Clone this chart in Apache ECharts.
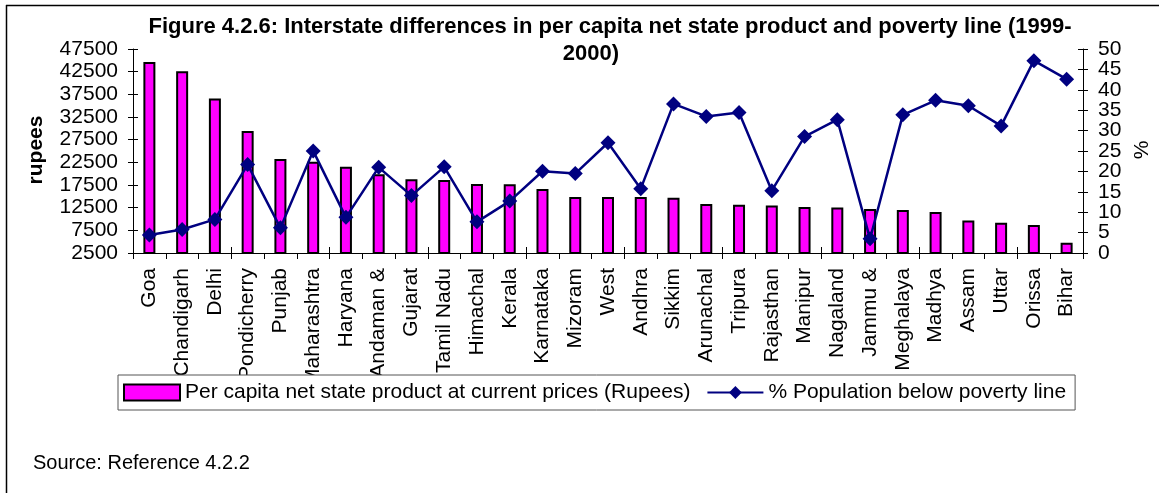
<!DOCTYPE html>
<html>
<head>
<meta charset="utf-8">
<script src="https://cdn.jsdelivr.net/npm/echarts@6/dist/echarts.min.js"></script>
<style>
html,body{margin:0;padding:0;background:#fff;}
#chart{width:1159px;height:493px;}
</style>
</head>
<body>
<div id="chart"></div>
<script>
const categories = ["Goa","Chandigarh","Delhi","Pondicherry","Punjab","Maharashtra","Haryana","Andaman &","Gujarat","Tamil Nadu","Himachal","Kerala","Karnataka","Mizoram","West","Andhra","Sikkim","Arunachal","Tripura","Rajasthan","Manipur","Nagaland","Jammu &","Meghalaya","Madhya","Assam","Uttar","Orissa","Bihar"];
const perCapita = [44650,42600,36600,29400,23250,22650,21550,19850,18750,18600,17700,17650,16600,14850,14850,14850,14700,13300,13150,13000,12650,12550,12200,12000,11550,9650,9200,8700,4750];
const povertyPct = [4.4,5.75,8.23,21.67,6.16,25.02,8.74,20.99,14.07,21.12,7.63,12.72,20.04,19.47,27.02,15.77,36.55,33.47,34.44,15.28,28.54,32.67,3.48,33.87,37.43,36.09,31.15,47.15,42.6];
const leftTicks = {min:2500, max:47500, interval:5000};
const rightTicks = {min:0, max:50, interval:5};
const titleLine1 = "Figure 4.2.6: Interstate differences in per capita net state product and poverty line (1999-";
const titleLine2 = "2000)";
const barName = "Per capita net state product at current prices (Rupees)";
const lineName = "% Population below poverty line";
const sourceText = "Source: Reference 4.2.2";

const FONT = "'Liberation Sans', Arial, sans-serif";
const chart = echarts.init(document.getElementById('chart'));
const axisLineStyle = {color:'#000', width:1};
const plain = v => String(v);
const baseLabel = {fontSize:21, color:'#000', margin:15, fontFamily:FONT};
const noAxis = {axisLine:{show:false}, axisTick:{show:false}, splitLine:{show:false}};
const rightRange = {type:'value', position:'right', min:rightTicks.min, max:rightTicks.max};
chart.setOption({
  animation:false,
  backgroundColor:'#fff',
  textStyle:{fontFamily:FONT},
  grid:{left:133, right:76, top:49, bottom:240},
  xAxis:[{
    type:'category', data:categories, position:'bottom', boundaryGap:true,
    axisLine:{lineStyle:axisLineStyle},
    axisTick:{show:true, inside:false, length:6, lineStyle:axisLineStyle},
    axisLabel:{rotate:90, interval:0, margin:15, fontSize:21, color:'#000', fontFamily:FONT},
    splitLine:{show:false}
  },{
    type:'category', data:categories, position:'bottom', boundaryGap:true,
    axisLine:{show:false},
    axisTick:{show:true, inside:true, length:6, lineStyle:axisLineStyle},
    axisLabel:{show:false}, splitLine:{show:false}
  }],
  yAxis:[{
    type:'value', position:'left', min:leftTicks.min, max:leftTicks.max, interval:leftTicks.interval,
    axisLine:{show:true, lineStyle:axisLineStyle},
    axisTick:{show:true, inside:false, length:5, lineStyle:axisLineStyle},
    axisLabel:Object.assign({formatter:plain, showMinLabel:true, showMaxLabel:true}, baseLabel),
    splitLine:{show:false}
  },
  Object.assign({}, rightRange, {
    interval:rightTicks.interval,
    axisLine:{show:true, lineStyle:axisLineStyle},
    axisTick:{show:true, inside:false, length:5, lineStyle:axisLineStyle},
    axisLabel:{show:false}, splitLine:{show:false}
  }),
  {
    type:'value', position:'left', min:leftTicks.min, max:leftTicks.max, interval:leftTicks.interval,
    axisLine:{show:false}, axisTick:{show:true, inside:true, length:5, lineStyle:axisLineStyle},
    axisLabel:{show:false}, splitLine:{show:false}
  },
  Object.assign({}, rightRange, {
    interval:rightTicks.interval,
    axisLine:{show:false}, axisTick:{show:true, inside:true, length:5, lineStyle:axisLineStyle},
    axisLabel:{show:false}, splitLine:{show:false}
  }),
  Object.assign({}, rightRange, noAxis, {
    interval:rightTicks.interval*2,
    axisLabel:Object.assign({formatter:plain, showMinLabel:true, showMaxLabel:true}, baseLabel)
  }),
  Object.assign({}, rightRange, noAxis, {
    interval:rightTicks.interval,
    axisLabel:Object.assign({formatter:v => (v % (rightTicks.interval*2) === 0 ? '' : String(v)), showMinLabel:false, showMaxLabel:false}, baseLabel)
  })],
  legend:{
    left:118, top:375, orient:'horizontal',
    padding:[7,9,7,5], itemGap:16, itemWidth:56, itemHeight:16,
    backgroundColor:'#fff', borderColor:'#555', borderWidth:1,
    textStyle:{fontSize:21, color:'#000', fontFamily:FONT},
    data:[{name:barName, icon:'rect'}, {name:lineName}], z:10
  },
  series:[{
    name:barName, type:'bar', data:perCapita, xAxisIndex:0, yAxisIndex:0,
    barWidth:12,
    itemStyle:{color:'#FF00FF', borderColor:'#000', borderWidth:2}
  },{
    name:lineName, type:'line', data:povertyPct, xAxisIndex:0, yAxisIndex:1,
    symbol:'diamond', symbolSize:15,
    lineStyle:{color:'#000080', width:2.5},
    itemStyle:{color:'#000080'}, z:5
  }],
  graphic:[
    {type:'line', shape:{x1:6, y1:5.5, x2:1159, y2:5.5}, style:{stroke:'#000', lineWidth:1.5}, z:20},
    {type:'line', shape:{x1:6.5, y1:5, x2:6.5, y2:493}, style:{stroke:'#000', lineWidth:1.5}, z:20},
    {type:'text', x:610, y:27, style:{text:titleLine1, font:"bold 22px "+FONT, fill:'#000', textAlign:'center', textVerticalAlign:'middle'}, z:20},
    {type:'text', x:591, y:54, style:{text:titleLine2, font:"bold 22px "+FONT, fill:'#000', textAlign:'center', textVerticalAlign:'middle'}, z:20},
    {type:'text', x:36, y:150, rotation:Math.PI/2, style:{text:'rupees', font:"bold 21px "+FONT, fill:'#000', textAlign:'center', textVerticalAlign:'middle'}, z:20},
    {type:'text', x:1142, y:150, rotation:Math.PI/2, style:{text:'%', font:"21px "+FONT, fill:'#000', textAlign:'center', textVerticalAlign:'middle'}, z:20},
    {type:'text', x:33, y:463, style:{text:sourceText, font:"20px "+FONT, fill:'#000', textAlign:'left', textVerticalAlign:'middle'}, z:20}
  ]
});
</script>
</body>
</html>
